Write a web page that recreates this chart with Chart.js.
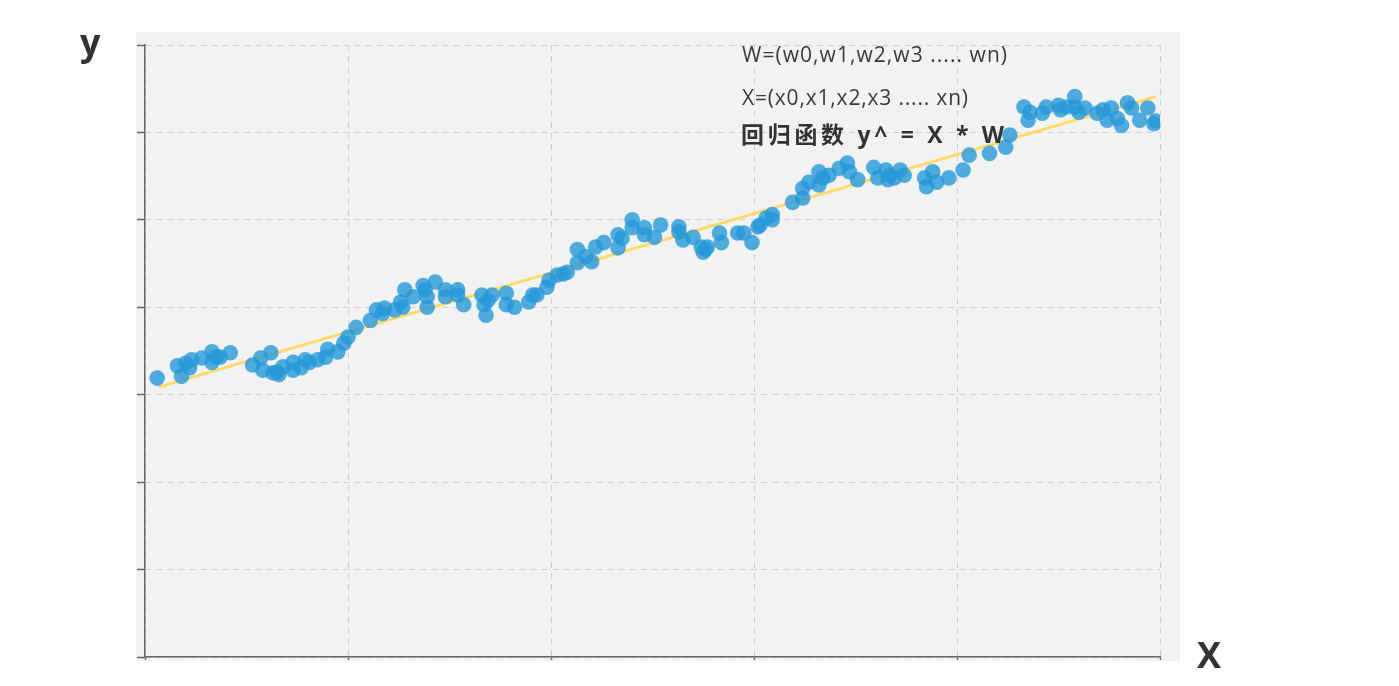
<!DOCTYPE html>
<html>
<head>
<meta charset="utf-8">
<title>回归函数</title>
<script src="https://cdn.jsdelivr.net/npm/chart.js@4.4.1/dist/chart.umd.min.js"></script>
<style>
  body { margin: 0; background: #fff; }
  #wrap { width: 1399px; height: 686px; }
</style>
</head>
<body>
<div id="wrap"><canvas id="myChart" width="1399" height="686"></canvas></div>
<script>
// sample points (x, y)
const xValues = [
  0.06, 0.16, 0.18, 0.20, 0.23, 0.22, 0.28, 0.33, 0.33, 0.35, 0.37, 0.42,
  0.53, 0.57, 0.58, 0.62, 0.63, 0.65, 0.66, 0.68, 0.73, 0.73, 0.77, 0.79,
  0.81, 0.85, 0.89, 0.90, 0.95, 0.98, 1.00,
  1.04, 1.11, 1.14, 1.17, 1.18, 1.23, 1.26, 1.27, 1.28, 1.32, 1.37, 1.38,
  1.39, 1.39, 1.43, 1.48, 1.48, 1.54, 1.54, 1.57, 1.66, 1.67, 1.68, 1.69,
  1.71, 1.78, 1.78, 1.82, 1.89, 1.91, 1.93, 1.98, 1.99, 2.03,
  2.06, 2.08, 2.13, 2.13, 2.17, 2.20, 2.22, 2.26, 2.33, 2.33, 2.35, 2.40,
  2.40, 2.46, 2.46, 2.51, 2.54, 2.63, 2.63, 2.65, 2.70, 2.74, 2.76, 2.75,
  2.77, 2.83, 2.84, 2.92, 2.95, 2.99, 3.02, 3.03,
  3.06, 3.09, 3.09, 3.19, 3.24, 3.24, 3.27, 3.32, 3.32, 3.34, 3.37, 3.42,
  3.46, 3.47, 3.51, 3.59, 3.61, 3.65, 3.66, 3.67, 3.69, 3.72, 3.74, 3.84,
  3.85, 3.88, 3.90, 3.96, 4.03, 4.06,
  4.16, 4.24, 4.26, 4.33, 4.35, 4.36, 4.42, 4.44, 4.50, 4.51, 4.54, 4.58,
  4.58, 4.60, 4.63, 4.69, 4.72, 4.74, 4.76, 4.79, 4.81, 4.84, 4.86, 4.90,
  4.94, 4.97, 4.98
];
const yValues = [
  3.19, 3.33, 3.21, 3.36, 3.40, 3.31, 3.42, 3.49, 3.37, 3.43, 3.43, 3.48,
  3.34, 3.42, 3.28, 3.48, 3.25, 3.26, 3.23, 3.32, 3.28, 3.37, 3.31, 3.40,
  3.37, 3.40, 3.43, 3.52, 3.49, 3.59, 3.66,
  3.77, 3.85, 3.97, 3.93, 3.99, 3.97, 4.06, 4.00, 4.20, 4.12, 4.25, 4.20,
  4.12, 4.00, 4.29, 4.20, 4.12, 4.20, 4.14, 4.03, 4.14, 4.03, 3.91, 4.08,
  4.14, 4.16, 4.03, 4.00, 4.06, 4.14, 4.14, 4.23, 4.31, 4.37,
  4.38, 4.40, 4.66, 4.51, 4.58, 4.52, 4.69, 4.74, 4.83, 4.68, 4.79, 4.91,
  5.00, 4.91, 4.83, 4.80, 4.94, 4.92, 4.86, 4.77, 4.80, 4.69, 4.66, 4.63,
  4.69, 4.85, 4.74, 4.85, 4.85, 4.74, 4.92, 4.94,
  5.02, 5.06, 5.00, 5.20, 5.25, 5.36, 5.43, 5.55, 5.40, 5.48, 5.51, 5.59,
  5.65, 5.55, 5.46, 5.60, 5.48, 5.57, 5.46, 5.51, 5.48, 5.57, 5.51, 5.48,
  5.38, 5.55, 5.43, 5.48, 5.57, 5.74,
  5.76, 5.83, 5.97, 6.29, 6.14, 6.23, 6.22, 6.29, 6.31, 6.26, 6.29, 6.41,
  6.29, 6.23, 6.28, 6.22, 6.26, 6.14, 6.28, 6.16, 6.08, 6.34, 6.28, 6.14,
  6.28, 6.10, 6.13
];

// regression line y^ = X * W
const fitX = [0.07, 4.98];
const fitY = [3.09, 6.41];

const noteLines = ['W=(w0,w1,w2,w3 ..... wn)', 'X=(x0,x1,x2,x3 ..... xn)'];
const noteTitle = '回归函数 y^ = X * W';

var points = xValues.map((x, i) => ({ x: x, y: yValues[i] }));
var fitLine = fitX.map((x, i) => ({ x: x, y: fitY[i] }));

// draw text stretched to a given width
function fitText(ctx, text, x, y, width) {
  ctx.letterSpacing = '0px';
  var w = ctx.measureText(text).width;
  var sp = (width - w) / (text.length - 1);
  ctx.letterSpacing = sp.toFixed(2) + 'px';
  ctx.fillText(text, x, y);
  ctx.letterSpacing = '0px';
}

// gray plot background + texts
const decoPlugin = {
  id: 'deco',
  beforeDraw(chart) {
    const { ctx, chartArea } = chart;
    ctx.save();
    ctx.fillStyle = '#f2f2f2';
    ctx.fillRect(chartArea.left - 9, chartArea.top - 13,
      chartArea.right - chartArea.left + 29, chartArea.bottom - chartArea.top + 17);
    ctx.restore();
  },
  afterDraw(chart) {
    const ctx = chart.ctx;
    ctx.save();
    ctx.fillStyle = '#333';
    ctx.textBaseline = 'alphabetic';
    ctx.font = 'bold 36px "Open Sans", "Noto Sans", sans-serif';
    ctx.fillText('y', 80, 55);
    ctx.fillText('X', 1197, 668);

    ctx.fillStyle = '#3a3a3a';
    ctx.font = '21px "Open Sans", "Noto Sans CJK SC", sans-serif';
    fitText(ctx, noteLines[0], 742, 62, 265);
    fitText(ctx, noteLines[1], 742, 105, 226);
    ctx.fillStyle = '#333';
    ctx.font = 'bold 23px "Open Sans", "Noto Sans CJK SC", sans-serif';
    fitText(ctx, noteTitle, 741, 143, 263);
    ctx.restore();
  }
};

var ctx = document.getElementById('myChart').getContext('2d');
var chart = new Chart(ctx, {
  type: 'scatter',
  data: {
    datasets: [
      {
        label: 'samples',
        data: points,
        backgroundColor: 'rgba(38, 152, 216, 0.8)',
        borderWidth: 0,
        pointRadius: 7.8,
        order: 1
      },
      {
        label: 'fit',
        type: 'line',
        data: fitLine,
        borderColor: '#ffd966',
        borderWidth: 3,
        pointRadius: 0,
        fill: false,
        order: 2
      }
    ]
  },
  options: {
    responsive: false,
    animation: false,
    layout: { autoPadding: false, padding: { left: 137, right: 239, top: 45, bottom: 26 } },
    plugins: {
      legend: { display: false },
      tooltip: { enabled: false }
    },
    scales: {
      x: {
        type: 'linear',
        min: 0,
        max: 5,
        ticks: { display: false, stepSize: 1 },
        grid: { color: '#d0d0d0', lineWidth: 1, tickLength: 3, tickColor: '#666', tickWidth: 1.5 },
        border: { color: '#666', width: 1.5, dash: [6, 5] },
        afterFit: function (s) { s.height = 3; }
      },
      y: {
        min: 0,
        max: 7,
        ticks: { display: false, stepSize: 1 },
        grid: { color: '#d0d0d0', lineWidth: 1, tickLength: 8, tickColor: '#666', tickWidth: 1.5 },
        border: { color: '#666', width: 1.5, dash: [6, 5] },
        afterFit: function (s) { s.width = 8; }
      }
    }
  },
  plugins: [decoPlugin]
});
</script>
</body>
</html>
